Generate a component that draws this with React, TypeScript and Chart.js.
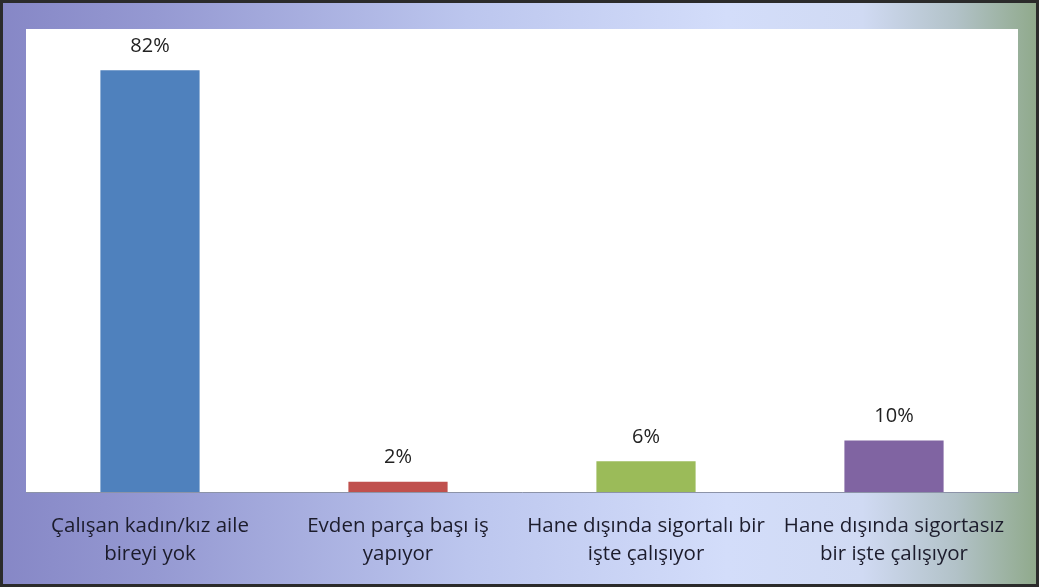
import React, { useEffect, useRef } from "react";
import { Chart, registerables } from "chart.js";

Chart.register(...registerables);

const categories: string[][] = [
  ["Çalışan kadın/kız aile", "bireyi yok"],
  ["Evden parça başı iş", "yapıyor"],
  ["Hane dışında sigortalı bir", "işte çalışıyor"],
  ["Hane dışında sigortasız", "bir işte çalışıyor"],
];
const values: number[] = [82, 2, 6, 10];
const barColors: string[] = ["#4f81bd", "#c0504d", "#9bbb59", "#8064a2"];
const yMax = 90;

const W = 1039;
const H = 587;

const bgPlugin = {
  id: "bgPlugin",
  beforeDraw(chart: any) {
    const { ctx, chartArea } = chart;
    ctx.save();
    const g = ctx.createLinearGradient(0, 0, W, 0);
    g.addColorStop(0, "#8687c6");
    g.addColorStop(0.15, "#9599d2");
    g.addColorStop(0.45, "#bcc6ee");
    g.addColorStop(0.7, "#d3ddfa");
    g.addColorStop(0.83, "#d0daf3");
    g.addColorStop(0.92, "#b2c2c8");
    g.addColorStop(1, "#8fa98a");
    ctx.fillStyle = g;
    ctx.fillRect(0, 0, W, H);
    ctx.fillStyle = "#ffffff";
    ctx.fillRect(chartArea.left, chartArea.top, chartArea.right - chartArea.left, chartArea.bottom - chartArea.top);
    ctx.restore();
  },
  afterDraw(chart: any) {
    const { ctx } = chart;
    ctx.save();
    ctx.strokeStyle = "#2b2b2b";
    ctx.lineWidth = 3;
    ctx.strokeRect(1.5, 1.5, W - 3, H - 3);
    ctx.restore();
  },
};

const valueLabelPlugin = {
  id: "valueLabelPlugin",
  afterDatasetsDraw(chart: any) {
    const { ctx } = chart;
    const meta = chart.getDatasetMeta(0);
    ctx.save();
    ctx.fillStyle = "#222222";
    ctx.font = "20px 'Open Sans'";
    ctx.textAlign = "center";
    ctx.textBaseline = "middle";
    meta.data.forEach((bar: any, i: number) => {
      ctx.fillText(values[i] + "%", bar.x, bar.y - 24);
    });
    ctx.restore();
  },
};

export default function App() {
  const ref = useRef<HTMLCanvasElement | null>(null);
  useEffect(() => {
    if (!ref.current) return;
    const chart = new Chart(ref.current, {
      type: "bar",
      data: {
        labels: categories,
        datasets: [
          {
            data: values,
            backgroundColor: barColors,
            borderWidth: 0,
            barPercentage: 0.4,
            categoryPercentage: 1,
          },
        ],
      },
      options: {
        animation: false,
        responsive: false,
        maintainAspectRatio: false,
        layout: { padding: { left: 26, right: 21, top: 29, bottom: 0 } },
        plugins: { legend: { display: false }, tooltip: { enabled: false } },
        scales: {
          x: {
            grid: { display: false },
            border: { display: true, color: "#8c93a8", width: 1 },
            afterFit(scale: any) {
              scale.height = 95;
            },
            ticks: {
              color: "#1c1c2c",
              font: { family: "'Open Sans'", size: 20.5, lineHeight: "28px" },
              padding: 12,
              maxRotation: 0,
              autoSkip: false,
            },
          },
          y: {
            display: false,
            min: 0,
            max: yMax,
          },
        },
      },
      plugins: [bgPlugin, valueLabelPlugin],
    });
    return () => chart.destroy();
  }, []);
  return (
    <div style={{ position: "absolute", left: 0, top: 0, width: W, height: H }}>
      <canvas ref={ref} width={W} height={H} style={{ width: W, height: H }} />
    </div>
  );
}
